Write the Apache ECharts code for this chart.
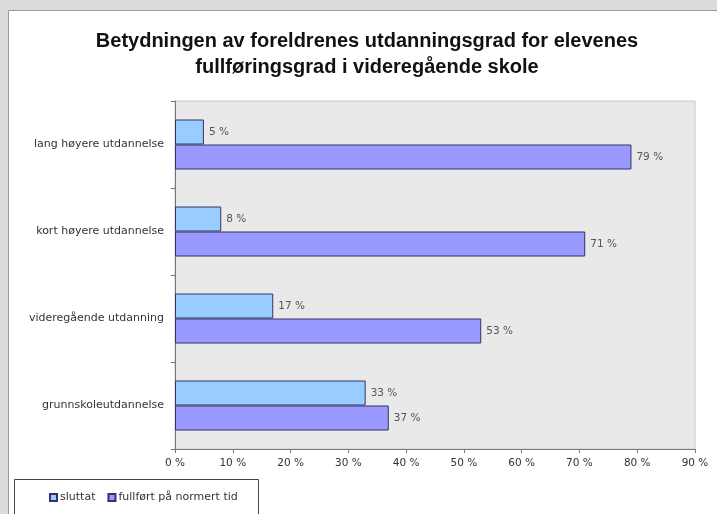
<!DOCTYPE html>
<html>
<head>
<meta charset="utf-8">
<script src="https://cdn.jsdelivr.net/npm/echarts@6/dist/echarts.min.js"></script>
<style>html,body{margin:0;padding:0;background:#fff}#c{width:717px;height:514px}</style>
</head>
<body>
<div id="c"></div>
<script>
var categories = ['lang høyere utdannelse', 'kort høyere utdannelse', 'videregående utdanning', 'grunnskoleutdannelse'];
var sluttat = [5, 8, 17, 33];
var fullfort = [79, 71, 53, 37];
var seriesNames = ['sluttat', 'fullført på normert tid'];
var titleLines = ['Betydningen av foreldrenes utdanningsgrad for elevenes', 'fullføringsgrad i videregående skole'];

var chart = echarts.init(document.getElementById('c'), null, {renderer: 'canvas'});
var font = 'Liberation Sans, Arial, sans-serif';
var sfont = 'DejaVu Sans, Verdana, sans-serif';
var labelCfg = {show: true, position: 'right', distance: 5, formatter: '{c} %', color: '#555', fontSize: 10.5, fontFamily: sfont};
chart.setOption({
  animation: false,
  graphic: [
    {type: 'rect', z: -10, shape: {x: 0, y: 0, width: 717, height: 514}, style: {fill: '#dcdcdc'}},
    {type: 'rect', z: -9, shape: {x: 8.5, y: 10.5, width: 720, height: 520}, style: {fill: '#ffffff', stroke: '#9a9a9a', lineWidth: 1}},
    {type: 'rect', z: -8, shape: {x: 14.5, y: 479.5, width: 244, height: 50}, style: {fill: '#ffffff', stroke: '#444', lineWidth: 1}},
    {type: 'text', x: 367, y: 41, style: {text: titleLines[0], font: 'bold 20px ' + font, fill: '#111', textAlign: 'center', textVerticalAlign: 'middle'}},
    {type: 'text', x: 367, y: 67, style: {text: titleLines[1], font: 'bold 20px ' + font, fill: '#111', textAlign: 'center', textVerticalAlign: 'middle'}}
  ],
  legend: {
    data: seriesNames, left: 44, top: 487, itemWidth: 7, itemHeight: 7, itemGap: 12,
    icon: 'rect',
    textStyle: {fontSize: 11, color: '#333', fontFamily: sfont, padding: [0, 0, 0, -2]}
  },
  grid: {left: 175, top: 101, width: 520, height: 348, show: true, backgroundColor: '#e9e9e9', borderColor: '#c8c8c8', borderWidth: 1},
  xAxis: {
    type: 'value', min: 0, max: 90, interval: 10,
    axisLine: {show: true, lineStyle: {color: '#777'}},
    axisTick: {show: true, length: 4, inside: false, lineStyle: {color: '#777'}},
    splitLine: {show: false},
    axisLabel: {formatter: '{value} %', fontSize: 10.5, color: '#333', fontFamily: sfont, margin: 9}
  },
  yAxis: {
    type: 'category', data: categories, inverse: true,
    axisLine: {show: true, lineStyle: {color: '#777'}},
    axisTick: {show: true, length: 4, lineStyle: {color: '#777'}},
    axisLabel: {fontSize: 11, color: '#333', fontFamily: sfont, margin: 11}
  },
  series: [
    {name: seriesNames[0], type: 'bar', data: sluttat, barWidth: 25, barGap: '0%',
      itemStyle: {color: '#99ccff', borderColor: '#333366', borderWidth: 1}, label: labelCfg},
    {name: seriesNames[1], type: 'bar', data: fullfort, barWidth: 25, barGap: '0%',
      itemStyle: {color: '#9999ff', borderColor: '#333366', borderWidth: 1}, label: labelCfg}
  ]
});
</script>
</body>
</html>
